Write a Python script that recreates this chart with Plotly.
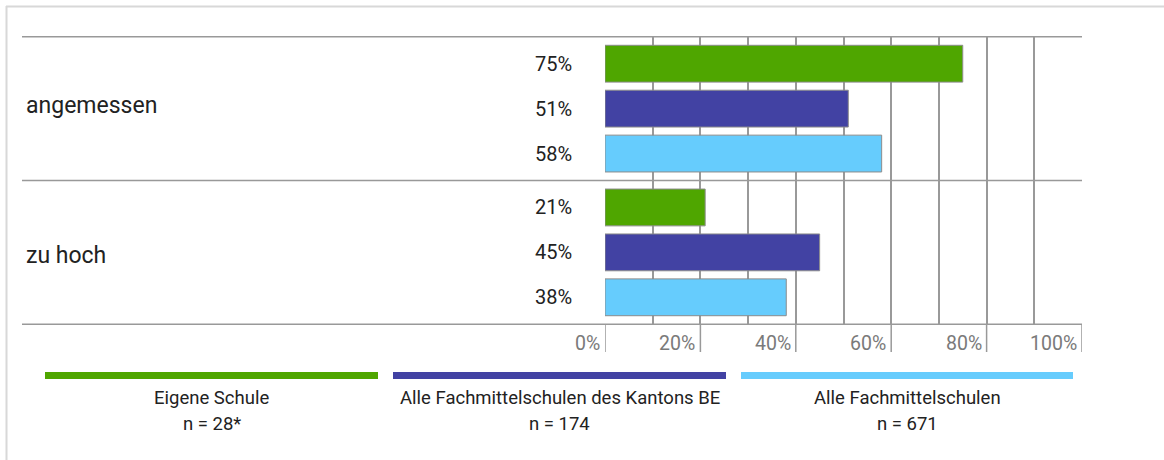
import plotly.graph_objects as go

categories = ["angemessen", "zu hoch"]
series_names = ["Eigene Schule", "Alle Fachmittelschulen des Kantons BE", "Alle Fachmittelschulen"]
series_n = ["n = 28*", "n = 174", "n = 671"]
eigene = [75, 21]
kanton = [51, 45]
alle = [58, 38]
colors = ["#4fa600", "#4242a3", "#66ccfd"]
tick_vals = [0, 20, 40, 60, 80, 100]
tick_text = ["0%", "20%", "40%", "60%", "80%", "100%"]

W, H = 1164, 460
L, R, T, B = 605, 82, 36, 135
pw = W - L - R
ph = H - T - B

FONT = "Roboto"

fig = go.Figure()
values = [eigene, kanton, alle]
for name, vals, col in zip(series_names, values, colors):
    fig.add_trace(go.Bar(
        y=categories, x=vals, name=name, orientation="h",
        marker=dict(color=col, line=dict(color="#8c8c8c", width=1)),
        showlegend=False, hoverinfo="x+name",
    ))

def px_x(px):
    return (px - L) / pw

def px_y(py):
    return 1 - (py - T) / ph

shapes = []
annotations = []
# frame
shapes.append(dict(type="line", xref="paper", yref="paper", x0=px_x(6), x1=px_x(W), y0=px_y(6.5), y1=px_y(6.5),
                   line=dict(color="#d8d8d8", width=2)))
shapes.append(dict(type="line", xref="paper", yref="paper", x0=px_x(6.5), x1=px_x(6.5), y0=px_y(6), y1=px_y(H),
                   line=dict(color="#d8d8d8", width=2)))
# group separator lines
for yv in [-0.5, 0.5, 1.5]:
    shapes.append(dict(type="line", xref="paper", yref="y", x0=px_x(22), x1=1, y0=yv, y1=yv,
                       line=dict(color="#999999", width=1.5)))
# long tick marks below axis + tick labels
for tv, tt in zip(tick_vals, tick_text):
    shapes.append(dict(type="line", xref="x", yref="paper", x0=tv, x1=tv, y0=0, y1=px_y(352),
                       line=dict(color="#999999", width=1.5)))
    annotations.append(dict(xref="x", yref="paper", x=tv, y=px_y(343), text=tt,
                            xanchor="right", yanchor="middle", showarrow=False, xshift=-3,
                            font=dict(family=FONT, size=19.5, color="#7a7a7a")))

# category labels
cat_shift = [3, -3]
for i, c in enumerate(categories):
    annotations.append(dict(xref="paper", yref="y", x=px_x(24), y=i, text=c, xanchor="left", yanchor="middle",
                            showarrow=False, yshift=cat_shift[i], font=dict(family=FONT, size=23, color="#222222")))

# value labels
slot = 45 / 144
for i in range(len(categories)):
    for j, vals in enumerate(values):
        annotations.append(dict(xref="paper", yref="y", x=px_x(574), y=i + (j - 1) * slot,
                                text=f"{vals[i]}%", xanchor="right", yanchor="middle", showarrow=False,
                                font=dict(family=FONT, size=20, color="#222222")))

# legend
seg = [(45, 378), (393, 726), (741, 1073)]
for (a, b), col, name, n in zip(seg, colors, series_names, series_n):
    shapes.append(dict(type="rect", xref="paper", yref="paper", x0=px_x(a), x1=px_x(b), y0=px_y(379), y1=px_y(372),
                       fillcolor=col, line=dict(width=0)))
    cx = px_x((a + b) / 2)
    annotations.append(dict(xref="paper", yref="paper", x=cx, y=px_y(398), text=name, xanchor="center",
                            yanchor="middle", showarrow=False, font=dict(family=FONT, size=18.5, color="#222222")))
    annotations.append(dict(xref="paper", yref="paper", x=cx, y=px_y(424), text=n, xanchor="center",
                            yanchor="middle", showarrow=False, font=dict(family=FONT, size=18.5, color="#222222")))

fig.update_layout(
    width=W, height=H,
    margin=dict(l=L, r=R, t=T, b=B, pad=0),
    paper_bgcolor="white", plot_bgcolor="white",
    barmode="group", bargap=0.0625, bargroupgap=0.18,
    xaxis=dict(range=[0, 100], dtick=10, showgrid=True, gridcolor="#999999", gridwidth=1.5,
               showticklabels=False, zeroline=False, showline=False, fixedrange=True),
    yaxis=dict(autorange="reversed", showticklabels=False, showgrid=False, zeroline=False, showline=False,
               fixedrange=True),
    shapes=shapes, annotations=annotations,
    font=dict(family=FONT),
)

fig.write_html("out.html", config={"displayModeBar": False},
               post_script="document.body.style.margin='0';document.body.style.padding='0';")
